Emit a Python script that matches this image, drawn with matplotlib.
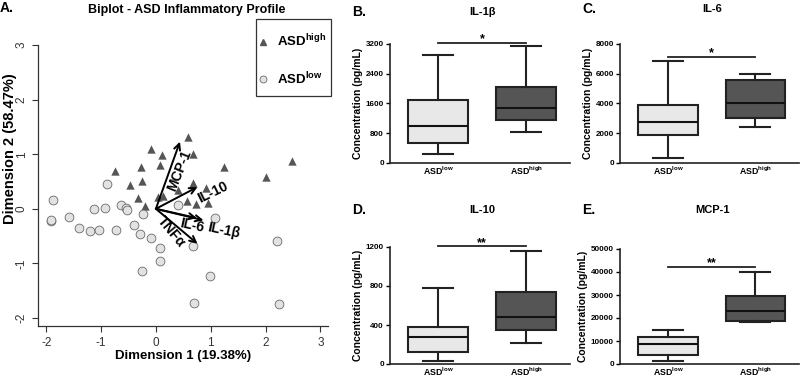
import matplotlib
matplotlib.use("Agg")
import matplotlib.pyplot as plt
from matplotlib.lines import Line2D
from matplotlib.patches import Rectangle

plt.rcParams['font.family'] = ['Liberation Sans', 'DejaVu Sans']
plt.rcParams['mathtext.fontset'] = 'custom'
plt.rcParams['mathtext.rm'] = 'Liberation Sans'
plt.rcParams['mathtext.bf'] = 'Liberation Sans:bold'
plt.rcParams['axes.unicode_minus'] = False

# ---- panel A: biplot scores ----
high_x = [0.58, -0.08, 0.12, 0.68, 0.07, -0.75, -0.27, 1.24, 2.01, 2.48, -0.25,
          -0.48, 0.67, 0.92, 0.41, -0.33, 0.04, 0.13, -0.19, 0.56, 0.73, 0.96]
high_y = [1.32, 1.09, 0.98, 1.01, 0.81, 0.70, 0.76, 0.77, 0.59, 0.87, 0.51,
          0.43, 0.48, 0.39, 0.35, 0.20, 0.21, 0.23, 0.06, 0.15, 0.08, 0.11]
low_x = [-1.88, -0.89, -1.92, -1.91, -1.58, -1.41, -1.21, -1.12, -1.04, -0.93,
         -0.73, -0.64, -0.54, -0.52, -0.24, -0.39, -0.29, -0.08, 0.07, 0.08,
         -0.25, 0.40, 1.08, 0.68, 0.98, 0.70, 2.21, 2.25]
low_y = [0.16, 0.46, -0.22, -0.21, -0.15, -0.35, -0.40, -0.01, -0.38, 0.01,
         -0.38, 0.07, 0.02, -0.03, -0.09, -0.29, -0.47, -0.53, -0.72, -0.96,
         -1.13, 0.07, -0.17, -0.68, -1.23, -1.73, -0.59, -1.74]

# loadings
var_names = ['MCP-1', 'IL-10', 'IL-6', 'IL-1β', 'TNFα']
load_x = [0.44, 0.76, 0.75, 0.87, 0.76]
load_y = [1.23, 0.40, -0.17, -0.21, -0.64]

# ---- panels B-E: box stats [whislo, q1, med, q3, whishi] ----
groups = [r'$\mathbf{ASD^{low}}$', r'$\mathbf{ASD^{high}}$']
il1b_low = [233, 547, 995, 1703, 2895]
il1b_high = [825, 1165, 1479, 2035, 3146]
il6_low = [314, 1882, 2756, 3899, 6880]
il6_high = [2398, 3025, 4056, 5602, 5961]
il10_low = [34, 118, 276, 383, 783]
il10_high = [215, 346, 477, 743, 1160]
mcp1_low = [1143, 4000, 8571, 11714, 14571]
mcp1_high = [18143, 18714, 23000, 29571, 39857]
sig_y = [3236, 7148, 1210, 42286]
sig_txt = ['*', '*', '**', '**']

W, H = 800, 378
fig = plt.figure(figsize=(W / 100, H / 100), dpi=100)


def axes_px(l, t, r, b):
    return fig.add_axes([l / W, 1 - b / H, (r - l) / W, (b - t) / H])


def ftext(x, y, s, **kw):
    fig.text(x / W, 1 - y / H, s, **kw)


# ================= A. biplot =================
ax = axes_px(38, 45, 328, 326)
ax.scatter(high_x, high_y, marker='^', s=36, color='#555555', linewidths=0, zorder=3)
ax.scatter(low_x, low_y, marker='o', s=40, facecolor='#e2e2e2',
           edgecolor='#6a6a6a', linewidths=0.6, zorder=3)
for lx, ly in zip(load_x, load_y):
    ax.annotate('', xy=(lx, ly), xytext=(0, 0), zorder=4,
                arrowprops=dict(arrowstyle='->,head_length=0.45,head_width=0.22',
                                lw=1.4, color='black', shrinkA=0, shrinkB=0))
lab_pos = [(0.43, 0.70, 68), (1.03, 0.30, 26), (0.66, -0.30, -12),
           (1.24, -0.40, -12), (0.29, -0.43, -50)]
for name, (tx, ty, rot) in zip(var_names, lab_pos):
    ax.text(tx, ty, name, rotation=rot, ha='center', va='center',
            fontsize=10, fontweight='bold', zorder=5)

ax.set_xlim(-2.15, 3.14)
ax.set_ylim(-2.146, 3.0)
ax.set_xticks([-2, -1, 0, 1, 2, 3])
ax.set_yticks([-2, -1, 0, 1, 2, 3])
for s in ['top', 'right']:
    ax.spines[s].set_visible(False)
for s in ['left', 'bottom']:
    ax.spines[s].set_color('#333333')
    ax.spines[s].set_linewidth(0.9)
ax.tick_params(direction='out', length=4.5, width=0.8, color='#333333',
               labelsize=8.5, labelcolor='#333333')
ax.tick_params(axis='y', labelrotation=90, pad=3)
for lab in ax.get_yticklabels():
    lab.set_va('center')
ax.set_xlabel('Dimension 1 (19.38%)', fontsize=9.5, fontweight='bold', labelpad=1)
ftext(10, 149, 'Dimension 2 (58.47%)', rotation=90, ha='center', va='center',
      fontsize=10.5, fontweight='bold')

# legend box drawn in figure pixels
fig.add_artist(Rectangle((256 / W, 1 - 96 / H), 75 / W, 77 / H, transform=fig.transFigure,
                         fill=False, edgecolor='#333333', linewidth=0.9))
fig.add_artist(Line2D([263 / W], [1 - 41.5 / H], marker='^', ls='', color='#555555',
                      markersize=5, transform=fig.transFigure))
fig.add_artist(Line2D([263 / W], [1 - 79 / H], marker='o', ls='', markerfacecolor='#e2e2e2',
                      markeredgecolor='#6a6a6a', markeredgewidth=0.6, markersize=5,
                      transform=fig.transFigure))
ftext(277, 46.5, r'$\mathbf{ASD^{high}}$', fontsize=9.5, va='baseline', ha='left')
ftext(277, 84, r'$\mathbf{ASD^{low}}$', fontsize=9.5, va='baseline', ha='left')

ftext(0, 8, 'A.', fontsize=10, fontweight='bold', va='center', ha='left')
ftext(187, 10, 'Biplot - ASD Inflammatory Profile', fontsize=9, fontweight='bold',
      ha='center', va='center')

# ================= B-E. box plots =================
panels = [
    ('B.', 'IL-1β', il1b_low, il1b_high, [0, 800, 1600, 2400, 3200], (390, 44, 570, 163), 12),
    ('C.', 'IL-6', il6_low, il6_high, [0, 2000, 4000, 6000, 8000], (620, 44, 799, 163), 9),
    ('D.', 'IL-10', il10_low, il10_high, [0, 400, 800, 1200], (390, 247, 570, 364), 210),
    ('E.', 'MCP-1', mcp1_low, mcp1_high, [0, 10000, 20000, 30000, 40000, 50000],
     (620, 249, 799, 364), 210),
]
for i, (letter, title, lo, hi, ticks, box, ty) in enumerate(panels):
    bx = axes_px(*box)
    stats = []
    for vals, lab in zip([lo, hi], groups):
        stats.append(dict(whislo=vals[0], q1=vals[1], med=vals[2], q3=vals[3],
                          whishi=vals[4], label=lab))
    bp = bx.bxp(stats, positions=[0, 1], widths=0.68, capwidths=0.34,
                showfliers=False, patch_artist=True,
                boxprops=dict(linewidth=1.5, edgecolor='#222222'),
                whiskerprops=dict(linewidth=1.5, color='#222222'),
                capprops=dict(linewidth=1.5, color='#222222'),
                medianprops=dict(linewidth=1.5, color='#111111'))
    bp['boxes'][0].set_facecolor('#e8e8e8')
    bp['boxes'][1].set_facecolor('#555555')
    bx.set_xlim(-0.55, 1.5)
    bx.set_ylim(0, ticks[-1])
    bx.set_yticks(ticks)
    for s in ['top', 'right']:
        bx.spines[s].set_visible(False)
    for s in ['left', 'bottom']:
        bx.spines[s].set_linewidth(1.2)
        bx.spines[s].set_color('#222222')
    bx.tick_params(axis='y', direction='out', length=3, width=1, pad=1.5, labelsize=5.8)
    bx.tick_params(axis='x', length=0, pad=1, labelsize=6.3)
    for lab in bx.get_yticklabels():
        lab.set_fontweight('bold')
    bx.set_ylabel('Concentration (pg/mL)', fontsize=7.5, fontweight='bold', labelpad=2)
    bx.plot([0, 1], [sig_y[i], sig_y[i]], color='#222222', lw=1.3, clip_on=False)
    bx.annotate(sig_txt[i], xy=(0.5, sig_y[i]), xytext=(0, -2),
                textcoords='offset points', ha='center', va='bottom',
                fontsize=9, fontweight='bold', annotation_clip=False)
    l = box[0]
    ftext(l - 38, ty, letter, fontsize=10, fontweight='bold', va='center', ha='left')
    ftext(l + 92, ty, title, fontsize=8, fontweight='bold', va='center', ha='center')

fig.savefig('out.png', dpi=100)
